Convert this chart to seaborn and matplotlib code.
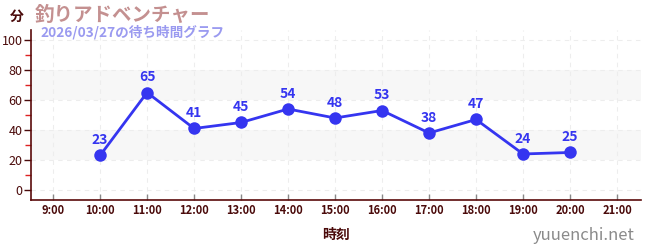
import matplotlib
matplotlib.use("Agg")
import matplotlib.pyplot as plt
import seaborn as sns
import pandas as pd
from matplotlib.ticker import MultipleLocator, FixedLocator

hours = [10, 11, 12, 13, 14, 15, 16, 17, 18, 19, 20]
waits = [23, 65, 41, 45, 54, 48, 53, 38, 47, 24, 25]
tick_hours = list(range(9, 22))
tick_labels = [f"{h}:00" for h in tick_hours]
title = "釣りアドベンチャー"
subtitle = "2026/03/27の待ち時間グラフ"
y_unit = "分"
x_label = "時刻"
watermark = "yuuenchi.net"

sns.set_theme(style="white")
plt.rcParams['font.family'] = ['Noto Sans CJK JP', 'DejaVu Sans']

df = pd.DataFrame({"hour": hours, "wait": waits})

fig = plt.figure(figsize=(6.5, 2.5), dpi=100)
ax = fig.add_axes([31/650, 50/250, 610/650, 170/250])

blue = "#3535f0"
dark = "#4a0a0a"

for lo, hi in [(20, 40), (60, 80)]:
    ax.axhspan(lo, hi, color="#f7f7f7", zorder=0, lw=0)

sns.lineplot(data=df, x="hour", y="wait", ax=ax, color=blue, lw=2,
             marker="o", markersize=9, markeredgewidth=0, zorder=3)

for h, w in zip(hours, waits):
    ax.annotate(str(w), (h, w), xytext=(0, 6), textcoords="offset points",
                ha="center", va="bottom", color=blue, fontsize=10,
                fontweight="bold", zorder=4)

ax.set_xlim(8.53, 21.51)
ax.set_ylim(-6.7, 106.7)
ax.xaxis.set_major_locator(FixedLocator(tick_hours))
ax.set_xticklabels(tick_labels)
ax.yaxis.set_major_locator(MultipleLocator(20))
ax.yaxis.set_minor_locator(MultipleLocator(10))

ax.grid(True, which="major", axis="both", color="#ededed", ls=(0, (4, 4)), lw=0.8)
ax.set_axisbelow(True)

for s in ["top", "right"]:
    ax.spines[s].set_visible(False)
for s in ["left", "bottom"]:
    ax.spines[s].set_color("#5a0a0a")
    ax.spines[s].set_linewidth(1.2)

ax.tick_params(axis="y", which="major", direction="out", length=5, width=1,
               color=dark, labelcolor=dark, labelsize=9, pad=1, left=True)
ax.tick_params(axis="y", which="minor", direction="out", length=4, width=1,
               color="#dd2222", left=True)
ax.tick_params(axis="x", which="major", direction="in", length=4, width=1,
               color="#888888", labelcolor=dark, labelsize=8, pad=3, bottom=True)
for lbl in ax.get_xticklabels():
    lbl.set_fontweight("bold")

ax.set_xlabel(x_label, color=dark, fontsize=10, fontweight="bold", labelpad=8)
ax.set_ylabel("")

fig.text(17/650, 1 - 17/250, y_unit, color=dark, fontsize=10, fontweight="bold",
         ha="center", va="center")
fig.text(35/650, 1 - 15/250, title, color="#c49090", fontsize=14,
         fontweight="bold", ha="left", va="center")
fig.text(40/650, 1 - 32/250, subtitle, color="#9a9af0", fontsize=9.8,
         fontweight="bold", ha="left", va="center")
fig.text(635/650, 1 - 235/250, watermark, color="#8a8a8a", fontsize=12,
         ha="right", va="center")

fig.savefig("out.png", dpi=100)
